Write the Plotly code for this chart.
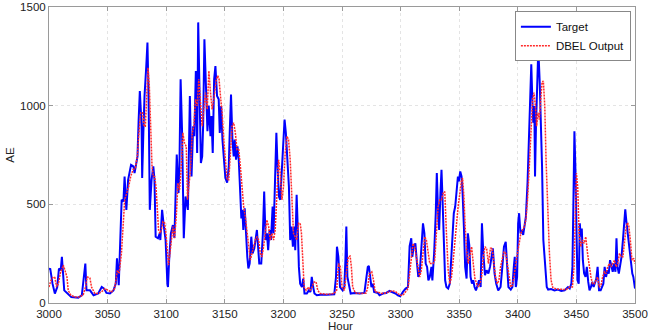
import plotly.graph_objects as go

# ---- Data ----
target_hours = [
    3000, 3001, 3003, 3005, 3007, 3008.5, 3010, 3011, 3013, 3016, 3019, 3025, 3028, 3031, 3032, 3035,
    3038, 3042, 3045, 3047, 3049, 3052, 3055, 3057, 3058, 3059.5, 3061, 3062, 3063.5, 3064.5, 3066,
    3067.5, 3070, 3072, 3073, 3075.5, 3076.5, 3077.5, 3079, 3079.5, 3080.5, 3081.5, 3083, 3084, 3085,
    3086, 3087.5, 3089, 3090, 3091, 3093, 3094.5, 3095, 3096.5, 3098, 3099.5, 3101, 3101.5, 3102.5,
    3104, 3105.7, 3107, 3109, 3110.5, 3111.3, 3112.3, 3113.5, 3115, 3116.5, 3118.5, 3120.2, 3121.6,
    3123, 3124, 3125.3, 3126.4, 3127.3, 3128.7, 3129.6, 3130.7, 3131.5, 3132.6, 3134, 3135.2, 3136.3,
    3137.8, 3138.6, 3139.7, 3140.9, 3142, 3143.4, 3144.8, 3145.7, 3146.9, 3148, 3149.1, 3150.5, 3152,
    3153.4, 3154.2, 3155.3, 3156.5, 3157.6, 3158.5, 3159.6, 3160.8, 3161.9, 3163.3, 3164.1, 3165,
    3165.8, 3167, 3168.1, 3169.2, 3170.1, 3171.2, 3172.6, 3173.7, 3175.2, 3177.4, 3179.4, 3181.1,
    3182.5, 3183.6, 3184.8, 3186, 3187, 3188.2, 3189.4, 3190.8, 3191.6, 3192.8, 3194, 3195, 3196.2,
    3197.3, 3198.7, 3199.9, 3201, 3202.1, 3203.3, 3204.7, 3205.8, 3207, 3208.1, 3209.3, 3210.1,
    3211.3, 3212.4, 3213.2, 3214.3, 3215.8, 3216.9, 3218, 3220, 3221.7, 3223.1, 3224.2, 3225.4,
    3226.5, 3228.5, 3231.4, 3237, 3243.4, 3244.9, 3245.7, 3246.9, 3248.3, 3250.6, 3252, 3252.9,
    3253.7, 3254.6, 3255.7, 3257.4, 3260.6, 3264.9, 3269.1, 3270.6, 3272, 3272.9, 3274, 3275.1,
    3276.3, 3277.4, 3280.6, 3282, 3284.9, 3287.7, 3290.6, 3293.4, 3295.7, 3297.7, 3299.7, 3302,
    3304.3, 3306.3, 3307.1, 3307.7, 3309.1, 3310, 3311.1, 3312.6, 3314, 3315.1, 3316.3, 3317.7,
    3319.1, 3320.3, 3321.4, 3322.6, 3323.7, 3324.9, 3326.3, 3327.1, 3328.6, 3330, 3330.9, 3332,
    3332.9, 3334, 3334.9, 3335.7, 3336.9, 3338, 3339.1, 3340.6, 3342, 3343.1, 3344.3, 3345.4, 3346.6,
    3347.7, 3348.9, 3349.7, 3350.9, 3352, 3352.9, 3354, 3355.1, 3356.3, 3357.4, 3358.6, 3359.7,
    3360.9, 3362, 3363.1, 3364.3, 3365.7, 3366.9, 3368.3, 3369.4, 3370.6, 3372, 3373.4, 3374.9,
    3376.3, 3378.7, 3380.2, 3381.6, 3383.3, 3385.3, 3386.8, 3388.2, 3389.7, 3390.8, 3392, 3394,
    3395.4, 3396.6, 3397.4, 3398.3, 3399.4, 3400.3, 3401.1, 3402.3, 3403.4, 3404.6, 3405.7, 3406.9,
    3408.3, 3409.8, 3410.6, 3411.5, 3412.4, 3413.2, 3414.1, 3414.7, 3415.5, 3416.7, 3417.5, 3418.7,
    3419.5, 3420.7, 3421.8, 3423, 3424.7, 3425.9, 3428.4, 3431.3, 3434.2, 3437.1, 3439.9, 3442.8,
    3444.3, 3445.7, 3446.6, 3447.4, 3448.3, 3449.1, 3450, 3450.9, 3452, 3452.9, 3453.7, 3454.6,
    3455.5, 3456.6, 3457.8, 3458.9, 3460.1, 3461.2, 3462.4, 3463.5, 3464.7, 3465.8, 3467, 3468.1,
    3469.3, 3470.7, 3471.8, 3473, 3474.1, 3475.3, 3476.4, 3477.6, 3478.7, 3479.9, 3481, 3482.2,
    3483.3, 3484.2, 3485.1, 3486.2, 3487.4, 3488.5, 3489.7, 3490.8, 3491.7, 3492.5, 3493.7, 3494.8,
    3496, 3496.8, 3497.7, 3498.6, 3499.4, 3500,
]
target_values = [
    170, 175, 98, 48, 80, 175, 166, 234, 64, 48, 30, 27, 39, 200, 64, 64,
    39, 48, 81, 73, 51, 48, 64, 98, 226, 90, 353, 523, 514, 641, 472,
    624, 700, 692, 658, 743, 930, 1074, 896, 633, 862, 1049, 1201, 1320, 1032,
    472, 624, 692, 624, 336, 328, 353, 319, 472, 387, 319, 98, 81, 217,
    353, 395, 330, 752, 557, 692, 1134, 879, 328, 540, 472, 1049, 641,
    896, 845, 1176, 760, 1422, 1066, 709, 743, 896, 1337, 1032, 870, 1000,
    845, 947, 760, 1134, 1201, 1049, 1032, 862, 998, 828, 726, 633, 610,
    692, 862, 1057, 828, 743, 828, 726, 794, 726, 540, 429, 472,
    370, 480, 319, 234, 175, 200, 336, 251, 277, 370, 200, 200,
    353, 565, 319, 353, 268, 370, 319, 489, 353, 590, 862, 692, 540,
    523, 692, 828, 930, 862, 760, 590, 319, 387, 285, 387, 268,
    548, 353, 183, 98, 81, 124, 48, 48, 64, 56, 132, 81,
    48, 39, 42, 42, 44, 132, 285, 234, 81, 64, 81, 217,
    387, 132, 98, 48, 51, 48, 51, 115, 183, 188, 115, 81,
    98, 56, 51, 39, 48, 51, 61, 56, 48, 39, 34, 56,
    73, 81, 200, 288, 328, 234, 285, 302, 200, 132, 149, 268,
    404, 353, 200, 183, 115, 132, 183, 115, 251, 455, 658, 455,
    370, 557, 675, 540, 285, 115, 81, 73, 98, 234, 387, 455, 489,
    557, 641, 616, 667, 641, 557, 387, 183, 124, 353, 294, 132,
    98, 115, 81, 64, 90, 115, 81, 404, 251, 141, 166, 149,
    183, 277, 149, 98, 64, 81, 183, 285, 310, 183, 81, 68,
    81, 183, 234, 81, 132, 404, 455, 353, 370, 345, 387, 438,
    608, 862, 1032, 1210, 1032, 913, 998, 641, 896, 1117, 1290, 1117,
    964, 692, 319, 217, 81, 68, 71, 64, 68, 61, 64, 81,
    73, 98, 183, 489, 870, 692, 438, 115, 98, 404, 336, 378,
    217, 149, 132, 183, 107, 64, 81, 107, 81, 98, 124, 183,
    64, 64, 81, 98, 183, 132, 166, 149, 217, 183, 158, 200,
    158, 328, 183, 149, 200, 234, 319, 438, 475, 421, 353, 285,
    234, 200, 149, 132, 98, 73,
]

output_hours = [
    3000, 3001.7, 3003.7, 3005, 3006.5, 3008, 3009.6, 3012.2, 3013.6, 3015.3, 3016.4, 3018.7, 3022,
    3026.4, 3029.2, 3031.2, 3032.6, 3034.9, 3036.3, 3039.1, 3042, 3044.8, 3047.6, 3050.5, 3053.3,
    3056, 3058.4, 3059.8, 3061.8, 3063.2, 3064.6, 3066.3, 3068, 3069.7, 3071.7, 3073.7, 3075.4,
    3076.5, 3078.2, 3079.9, 3081.1, 3082.2, 3083.3, 3084.5, 3085.6, 3086.7, 3087.9, 3089, 3090.1,
    3091.3, 3092.4, 3093.5, 3094.7, 3095.8, 3097.2, 3098.6, 3099.8, 3100.9, 3102, 3103.2, 3104.3,
    3105.7, 3107.1, 3108.6, 3110, 3111.4, 3112.8, 3114.2, 3115.6, 3117.1, 3118.2, 3119.3, 3120.7,
    3122.2, 3123.6, 3125, 3126.4, 3127.8, 3129.3, 3130.7, 3132.1, 3133.5, 3135, 3136.4, 3137.8,
    3139.2, 3140.6, 3141.7, 3142.8, 3144, 3145.1, 3146.3, 3147.7, 3149.1, 3150.5, 3152, 3153.4,
    3154.8, 3156.2, 3157.6, 3159, 3160.4, 3161.9, 3163.3, 3164.7, 3166.1, 3167.5, 3168.9, 3170.4,
    3171.8, 3173.2, 3174.6, 3176, 3177.4, 3178.9, 3180.3, 3181.7, 3183.1, 3184.5, 3185.9, 3187.4,
    3188.8, 3190.2, 3191.6, 3193, 3194.5, 3195.9, 3197.3, 3198.7, 3200.1, 3201.5, 3203, 3204.4,
    3205.8, 3207.2, 3208.6, 3210, 3211.4, 3212.9, 3214.3, 3215.4, 3216.5, 3217.7, 3219.4, 3221.4,
    3222.8, 3224.5, 3226.2, 3227.9, 3229.3, 3231.3, 3237, 3243.4, 3245.4, 3247.1, 3248.6, 3250,
    3252, 3254, 3255.4, 3256.9, 3258, 3259.1, 3261.4, 3266.3, 3270.6, 3272, 3273.4, 3275.4, 3276.9,
    3278.3, 3280.6, 3283.4, 3287.7, 3292, 3295.4, 3297.7, 3299.7, 3302, 3304.3, 3306.3, 3307.7,
    3309.1, 3310.6, 3312, 3313.4, 3314.9, 3316.3, 3317.7, 3319.1, 3320.6, 3322, 3323.4, 3324.9,
    3326.3, 3327.7, 3329.1, 3330.6, 3332, 3333.4, 3334.9, 3336.3, 3337.7, 3339.1, 3340.6, 3342,
    3343.4, 3344.9, 3346.3, 3347.7, 3349.1, 3350.6, 3352, 3352.9, 3354, 3355.1, 3356.3, 3357.7,
    3359.1, 3360.6, 3362, 3363.4, 3364.9, 3366.3, 3367.7, 3369.1, 3370.6, 3372, 3373.4, 3374.9,
    3376.7, 3378.2, 3379.6, 3381, 3382.5, 3383.9, 3385.3, 3386.8, 3388.2, 3389.7, 3391.1, 3392.5,
    3394, 3395.4, 3396.8, 3398.3, 3399.7, 3401.1, 3402.6, 3404, 3405.5, 3406.9, 3408.3, 3409.8,
    3411.2, 3412.6, 3413.8, 3415, 3416.1, 3417.2, 3418.4, 3419.5, 3420.7, 3421.8, 3423, 3424.1,
    3425.6, 3427, 3428.4, 3429.9, 3432.8, 3437.1, 3441.4, 3444.3, 3446.6, 3448, 3449.1, 3450,
    3451.1, 3452.3, 3453.7, 3455.2, 3456.6, 3458, 3459.5, 3460.9, 3462.4, 3463.8, 3465.2, 3466.7,
    3468.1, 3469.5, 3471, 3472.4, 3473.9, 3475.3, 3476.7, 3478.2, 3479.6, 3481, 3482.5, 3483.9,
    3485.3, 3486.8, 3488.2, 3489.7, 3491.1, 3492.5, 3493.7, 3494.8, 3496, 3497.4, 3498.9, 3500,
]
output_values = [
    81, 115, 132, 129, 81, 98, 149, 192, 166, 132, 64, 39, 31,
    31, 42, 81, 132, 127, 81, 48, 48, 56, 73, 64, 56,
    73, 166, 149, 251, 387, 523, 557, 590, 641, 675, 684, 743,
    845, 964, 964, 896, 896, 1049, 1193, 1100, 896, 692, 641, 641,
    590, 489, 370, 353, 370, 412, 407, 353, 251, 192, 251, 319,
    387, 328, 438, 608, 574, 692, 862, 811, 794, 523, 590, 675,
    862, 896, 1032, 998, 1134, 1032, 896, 981, 1066, 981, 1176, 1066,
    981, 1032, 1100, 1134, 1151, 1134, 1049, 964, 828, 726, 624, 624,
    794, 896, 913, 862, 777, 777, 692, 590, 489, 438, 370, 268,
    217, 251, 285, 319, 336, 319, 251, 234, 285, 353, 421, 387,
    319, 353, 319, 370, 523, 726, 658, 523, 590, 760, 845, 828,
    726, 557, 353, 336, 319, 404, 404, 353, 183, 81, 64, 81,
    64, 81, 107, 107, 64, 48, 44, 48, 64, 200, 183, 81,
    64, 149, 234, 238, 183, 81, 51, 48, 51, 81, 149, 158, 115,
    56, 56, 48, 51, 61, 59, 48, 39, 39, 56, 73, 149,
    243, 302, 285, 234, 183, 132, 166, 268, 336, 319, 251, 200,
    200, 200, 217, 336, 489, 523, 523, 557, 565, 353, 166, 98,
    132, 217, 319, 421, 489, 557, 624, 633, 540, 387, 268, 200,
    251, 285, 200, 124, 98, 81, 98, 132, 234, 285, 277, 200,
    277, 277, 200, 132, 98, 115, 183, 234, 260, 251, 200, 132,
    81, 90, 132, 200, 251, 285, 353, 370, 387, 421, 523, 692,
    879, 1032, 1066, 998, 896, 964, 930, 1032, 1120, 1125, 998, 726,
    455, 251, 115, 78, 71, 68, 68, 81, 81, 183, 523, 658,
    590, 353, 285, 319, 302, 336, 251, 183, 132, 98, 98, 115,
    132, 81, 90, 132, 158, 149, 183, 200, 183, 200, 217, 183,
    200, 251, 234, 234, 319, 387, 407, 387, 319, 217, 226, 200,
]

x_ticks = [3000, 3050, 3100, 3150, 3200, 3250, 3300, 3350, 3400, 3450, 3500]
y_ticks = [0, 500, 1000, 1500]

FONT = "Liberation Sans, Arial, sans-serif"

fig = go.Figure()
fig.add_trace(go.Scatter(
    x=target_hours, y=target_values, mode="lines", name="Target",
    line=dict(color="#0000ff", width=2),
))
fig.add_trace(go.Scatter(
    x=output_hours, y=output_values, mode="lines", name="DBEL Output",
    line=dict(color="#ff2a2a", width=1.5, dash="2px,1px"),
))

axis_common = dict(
    showline=True, linecolor="#9a9a9a", linewidth=1, mirror="ticks",
    ticks="inside", ticklen=4, tickcolor="#9a9a9a",
    showgrid=True, gridcolor="#e4e4e4", griddash="dot", gridwidth=1,
    zeroline=False, tickfont=dict(family=FONT, size=11.5, color="#222222"),
    automargin=False, ticklabeloverflow="allow",
)

fig.update_layout(
    width=648, height=333,
    margin=dict(l=49, r=13, t=7, b=30),
    paper_bgcolor="white", plot_bgcolor="white",
    font=dict(family=FONT, size=11.5, color="#222222"),
    xaxis=dict(range=[3000, 3500], tickvals=x_ticks, **axis_common),
    yaxis=dict(range=[0, 1500], tickvals=y_ticks,
               title=dict(text="AE", standoff=3, font=dict(family=FONT, size=11.5)),
               **axis_common),
    legend=dict(x=0.993, y=0.986, xanchor="right", yanchor="top",
                bgcolor="white", bordercolor="#888888", borderwidth=1,
                font=dict(family=FONT, size=11.5, color="#111111"),
                tracegroupgap=0, itemwidth=30),
    showlegend=True,
    annotations=[dict(text="Hour", xref="paper", yref="paper", x=0.498, y=-0.077,
                      xanchor="center", yanchor="middle", showarrow=False,
                      font=dict(family=FONT, size=11.5, color="#222222"))],
)

fig.write_html("out.html", config={"displayModeBar": False},
               post_script="document.body.style.margin='0';")
